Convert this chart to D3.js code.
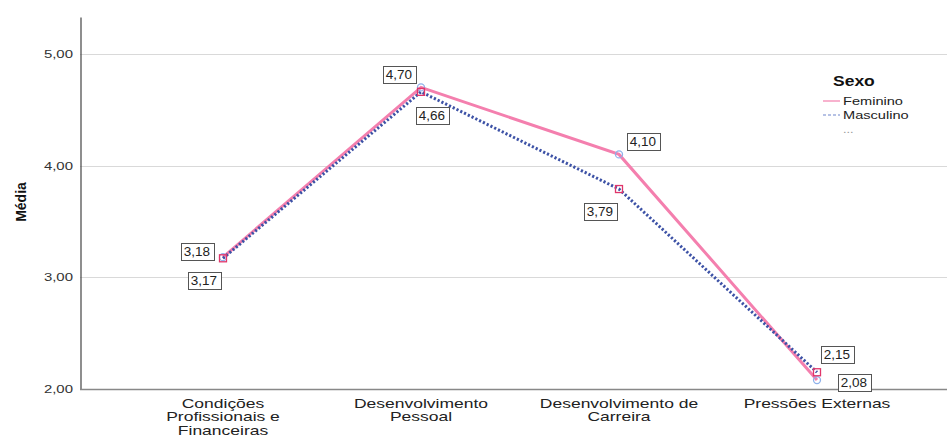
<!DOCTYPE html>
<html><head><meta charset="utf-8">
<script src="https://cdn.jsdelivr.net/npm/d3@7"></script>
<style>body{margin:0;background:#fff}svg{display:block;font-family:"Liberation Sans",Arial,sans-serif}</style>
</head><body><svg id="c" width="947" height="437"></svg>
<script>
const categories = [["Condições","Profissionais e","Financeiras"],["Desenvolvimento","Pessoal"],["Desenvolvimento de","Carreira"],["Pressões Externas"]];
const catKeys = ["Condições Profissionais e Financeiras","Desenvolvimento Pessoal","Desenvolvimento de Carreira","Pressões Externas"];
const feminino = [3.18, 4.70, 4.10, 2.08];
const masculino = [3.17, 4.66, 3.79, 2.15];
const yTicks = [2, 3, 4, 5];
const seriesNames = ["Feminino","Masculino"];
// label box offsets (layout only)
const femOff = [[-26,-6],[-22,-13],[24,-13],[37,2]];
const mascOff = [[-19,22],[11,24],[-19,22],[20,-18]];

const SX = 1.27; // horizontal stretch of the reference's text rendering
const svg = d3.select("#c");
const x = d3.scalePoint().domain(catKeys).range([223, 817]);
const y = d3.scaleLinear().domain([2, 5.33]).range([389, 17]);
const fmt = v => d3.format(".2f")(v).replace(".", ",");

function sText(g, tx, ty, str, size, anchor, opts={}){
  const t = g.append("text").attr("transform",`translate(${tx},${ty}) scale(${opts.sx||SX},1)`)
    .attr("text-anchor",anchor).attr("font-size",size).attr("fill",opts.fill||"#222");
  if(opts.bold) t.attr("font-weight","bold");
  t.text(str);
  return t;
}

// gridlines
svg.append("g").selectAll("line").data(yTicks.filter(t=>t>2)).join("line")
  .attr("x1",80).attr("x2",947).attr("y1",d=>Math.round(y(d))+0.5).attr("y2",d=>Math.round(y(d))+0.5)
  .attr("stroke","#d9d9d9").attr("stroke-width",1);

// y axis
const ya = svg.append("g").attr("transform","translate(80.5,0)")
  .call(d3.axisLeft(y).tickValues(yTicks).tickSize(0).tickFormat(""));
ya.select(".domain").attr("stroke","#444").attr("stroke-width",1.2);
const tl = svg.append("g");
yTicks.forEach(t=>sText(tl, 73, y(t)+4, fmt(t), 11.5, "end", {sx:1.3, fill:"#333"}));

// x axis baseline
svg.append("line").attr("x1",80).attr("x2",947).attr("y1",389.5).attr("y2",389.5).attr("stroke","#888").attr("stroke-width",1.5);
const xl = svg.append("g");
catKeys.forEach((k,i)=>{
  categories[i].forEach((ln,j)=>sText(xl, x(k), 407.5 + j*13.5, ln, 12.5, "middle", {sx:1.4}));
});

// y title
svg.append("text").attr("transform","translate(26,202) rotate(-90)").attr("text-anchor","middle")
  .attr("font-size",14).attr("font-weight","bold").attr("fill","#111").text("Média");

const line = d3.line().x((d,i)=>x(catKeys[i])).y(d=>y(d));
svg.append("path").datum(feminino).attr("d",line).attr("fill","none")
  .attr("stroke","#f47fae").attr("stroke-width",3);
svg.append("path").datum(masculino).attr("d",line).attr("fill","none")
  .attr("stroke","#3d52a6").attr("stroke-width",3).attr("stroke-dasharray","2.2,2");

// markers
svg.append("g").selectAll("circle").data(feminino).join("circle")
  .attr("cx",(d,i)=>x(catKeys[i])).attr("cy",d=>y(d)).attr("r",3.5)
  .attr("fill","none").attr("stroke","#8eb1ea").attr("stroke-width",1.3);
svg.append("g").selectAll("rect").data(masculino).join("rect")
  .attr("x",(d,i)=>x(catKeys[i])-3.5).attr("y",d=>y(d)-3.5).attr("width",7).attr("height",7)
  .attr("fill","none").attr("stroke","#e0356a").attr("stroke-width",1.3);

// data labels
function labels(data, off){
  const g = svg.append("g");
  data.forEach((v,i)=>{
    const cx = x(catKeys[i]) + off[i][0], cy = y(v) + off[i][1];
    g.append("rect").attr("x",Math.round(cx-16.5)+0.5).attr("y",Math.round(cy-8.5)+0.5).attr("width",33).attr("height",17)
      .attr("fill","#fff").attr("stroke","#555").attr("stroke-width",1);
    sText(g, cx, cy+4.5, fmt(v), 12.5, "middle", {sx:1.08});
  });
}
labels(feminino, femOff);
labels(masculino, mascOff);

// legend
const lg = svg.append("g");
sText(lg, 833, 86, "Sexo", 14, "start", {bold:true, fill:"#111", sx:1.25});
lg.append("line").attr("x1",823).attr("x2",840).attr("y1",101).attr("y2",101).attr("stroke","#f47fae").attr("stroke-width",1.2);
lg.append("line").attr("x1",823).attr("x2",840).attr("y1",115).attr("y2",115).attr("stroke","#6f86cc").attr("stroke-width",1.2).attr("stroke-dasharray","3,2");
seriesNames.forEach((d,i)=>sText(lg, 843, 105+i*14, d, 11.5, "start", {sx:1.27}));
sText(lg, 843, 133, "...", 10, "start", {fill:"#999", sx:1.27});
</script></body></html>
